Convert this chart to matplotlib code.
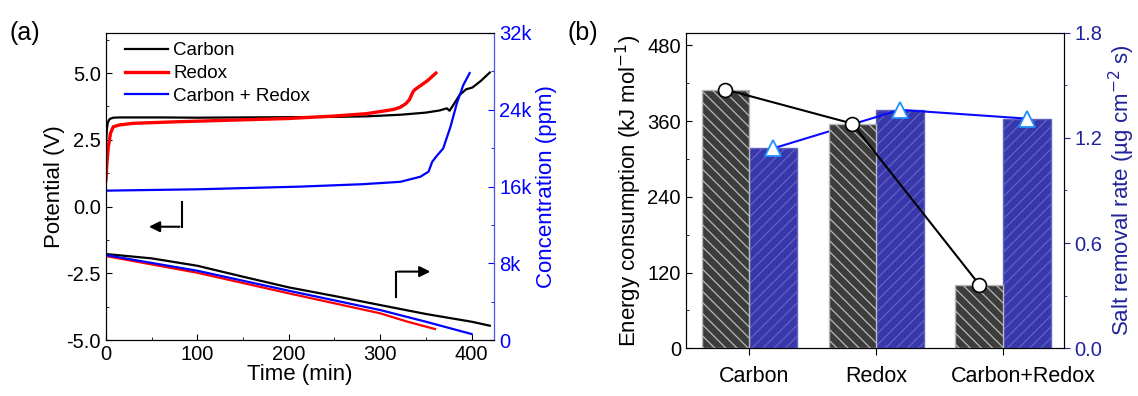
import numpy as np
import matplotlib
matplotlib.use('Agg')
import matplotlib.pyplot as plt
from matplotlib.ticker import MultipleLocator, FuncFormatter
from matplotlib.transforms import ScaledTranslation

plt.rcParams['font.family'] = ['Liberation Sans', 'DejaVu Sans']
plt.rcParams['hatch.linewidth'] = 0.9

# ---- panel (a): potential curves (left axis) ----
t_carbon_v = [0, 0.5, 1, 2, 4, 8, 15, 30, 60, 100, 150, 200, 250, 285, 322, 350, 365, 373, 376, 380, 387, 394, 401, 410, 420]
v_carbon = [2.3, 2.6, 2.9, 3.15, 3.28, 3.33, 3.34, 3.34, 3.34, 3.33, 3.34, 3.35, 3.36, 3.38, 3.44, 3.52, 3.6, 3.68, 3.59, 3.8, 4.18, 4.39, 4.46, 4.7, 5.02]

t_redox_v = [0, 1, 2.6, 5, 8, 15, 30, 80, 139, 200, 249, 285, 304, 315, 322, 328, 332, 336, 338, 345, 352, 361]
v_redox = [1.0, 1.6, 2.24, 2.75, 2.99, 3.06, 3.12, 3.18, 3.24, 3.3, 3.39, 3.48, 3.58, 3.64, 3.72, 3.85, 4.0, 4.3, 4.38, 4.55, 4.72, 5.0]

t_mix_v = [0, 100, 212, 280, 322, 344, 353, 357, 362, 369, 377, 384, 391, 398]
v_mix = [0.6, 0.65, 0.75, 0.84, 0.93, 1.12, 1.31, 1.68, 1.9, 2.18, 2.99, 3.87, 4.55, 5.0]

# ---- panel (a): concentration curves (right axis, ppm) ----
t_carbon_c = [0, 50, 100, 150, 200, 250, 300, 350, 400, 420]
c_carbon = [8980, 8530, 7760, 6620, 5510, 4610, 3670, 2740, 1935, 1520]

t_redox_c = [0, 100, 200, 300, 330, 360]
c_redox = [8770, 7030, 4890, 2810, 1935, 1175]

t_mix_c = [0, 100, 200, 300, 350, 400]
c_mix = [8870, 7240, 5160, 3150, 1935, 655]

# ---- panel (b) ----
categories = ['Carbon', 'Redox', 'Carbon+Redox']
energy = [410, 356, 101]        # kJ mol-1
removal_rate = [1.14, 1.36, 1.31]  # ug cm-2 s

TICK = 14.5
LAB = 16

fig = plt.figure(figsize=(11.38, 3.96), dpi=100)

# ================= (a) =================
ax1 = fig.add_axes([0.0931, 0.1407, 0.3413, 0.776])
ax1.plot(t_carbon_v, v_carbon, color='black', lw=1.6, label='Carbon')
ax1.plot(t_redox_v, v_redox, color='red', lw=2.4, label='Redox')
ax1.plot(t_mix_v, v_mix, color='blue', lw=1.6, label='Carbon + Redox')
ax1.set_xlim(0, 425)
ax1.set_ylim(-5, 6.5)
ax1.set_yticks([-5, -2.5, 0, 2.5, 5])
ax1.yaxis.set_minor_locator(MultipleLocator(1.25))
ax1.xaxis.set_major_locator(MultipleLocator(100))
ax1.xaxis.set_minor_locator(MultipleLocator(50))
ax1.yaxis.set_major_formatter(FuncFormatter(lambda v, p: '%.1f' % v))
ax1.tick_params(which='both', direction='in', labelsize=TICK)
ax1.tick_params(which='major', length=4)
ax1.tick_params(which='minor', length=2.5)
ax1.set_xlabel('Time (min)', fontsize=LAB, labelpad=0)
ax1.set_ylabel('Potential (V)', fontsize=LAB, labelpad=1)
ax1.legend(loc='upper left', frameon=False, fontsize=13.5, handlelength=2.3,
           handletextpad=0.28, labelspacing=0.3, borderaxespad=0, borderpad=0,
           bbox_to_anchor=(0.049, 0.97))

# arrows
ax1.plot([83, 83], [0.19, -0.75], color='black', lw=1.5)
ax1.annotate('', xy=(44, -0.75), xytext=(83.6, -0.75),
             arrowprops=dict(arrowstyle='-|>', color='black', lw=1.5, mutation_scale=16))
ax1.plot([317, 317], [-3.37, -2.43], color='black', lw=1.5)
ax1.annotate('', xy=(358, -2.43), xytext=(316.4, -2.43),
             arrowprops=dict(arrowstyle='-|>', color='black', lw=1.5, mutation_scale=16))

ax1r = ax1.twinx()
ax1r.plot(t_carbon_c, c_carbon, color='black', lw=1.6)
ax1r.plot(t_redox_c, c_redox, color='red', lw=1.6)
ax1r.plot(t_mix_c, c_mix, color='blue', lw=1.6)
ax1r.set_ylim(0, 32000)
ax1r.yaxis.set_major_locator(MultipleLocator(8000))
ax1r.yaxis.set_minor_locator(MultipleLocator(4000))
ax1r.yaxis.set_major_formatter(FuncFormatter(lambda v, p: '0' if v == 0 else '%dk' % (v / 1000)))
ax1r.tick_params(which='both', direction='in', labelsize=TICK, colors='#0000ff')
ax1r.tick_params(which='major', length=4)
ax1r.tick_params(which='minor', length=2.5)
ax1r.spines['right'].set_color('#5050ff')
ax1r.set_ylabel('Concentration (ppm)', fontsize=LAB, color='#0000ff', labelpad=3)

fig.text(0.008, 0.9, '(a)', fontsize=18)

# ================= (b) =================
ax2 = fig.add_axes([0.6026, 0.1205, 0.3323, 0.7969])
x = np.arange(1, len(categories) + 1)
w = 0.375
ax2.bar(x - w / 2, energy, width=w, color='#3c3c3c', edgecolor='#b8b8b8',
        hatch='\\\\\\', linewidth=1.0, zorder=2)
ax2.plot(x - w / 2, energy, color='black', lw=1.5, marker='o', markersize=10,
         markerfacecolor='white', markeredgecolor='black', markeredgewidth=1.2, zorder=5)
ax2.set_xlim(0.5, 3.48)
ax2.set_ylim(0, 500)
ax2.yaxis.set_major_locator(MultipleLocator(120))
ax2.yaxis.set_minor_locator(MultipleLocator(60))
ax2.set_xticks(x)
ax2.set_xticklabels(categories)
ax2.tick_params(axis='y', which='both', direction='in', labelsize=TICK)
ax2.tick_params(axis='y', which='major', length=4)
ax2.tick_params(axis='y', which='minor', length=2.5)
ax2.tick_params(axis='x', direction='out', length=5, labelsize=15.5, pad=8)
ax2.set_ylabel('Energy consumption (kJ mol$^{-1}$)', fontsize=LAB, labelpad=2)
lbls = ax2.get_xticklabels()
lbls[0].set_transform(lbls[0].get_transform() + ScaledTranslation(0.05, 0, fig.dpi_scale_trans))
lbls[2].set_transform(lbls[2].get_transform() + ScaledTranslation(0.2, 0, fig.dpi_scale_trans))

ax2r = ax2.twinx()
ax2r.bar(x + w / 2, removal_rate, width=w, color='#3838ac', edgecolor='#6262c4',
         hatch='///', linewidth=1.0, zorder=2)
ax2r.plot(x + w / 2, removal_rate, color='#0a0aff', lw=1.5, marker='^', markersize=12,
          markerfacecolor='white', markeredgecolor='#1e90ff', markeredgewidth=1.3, zorder=5)
ax2r.set_ylim(0, 1.8)
ax2r.yaxis.set_major_locator(MultipleLocator(0.6))
ax2r.yaxis.set_minor_locator(MultipleLocator(0.3))
ax2r.yaxis.set_major_formatter(FuncFormatter(lambda v, p: '%.1f' % v))
ax2r.tick_params(which='both', direction='out', labelsize=TICK, colors='#22229a')
ax2r.tick_params(which='major', length=4)
ax2r.tick_params(which='minor', length=2.5)
ax2r.spines['right'].set_color('#22229a')
ax2r.set_ylabel('Salt removal rate (µg cm$^{-2}$ s)', fontsize=LAB, color='#22229a', labelpad=3)

# keep the circles/black line above the blue bars
ax2.set_zorder(ax2r.get_zorder() + 1)
ax2.patch.set_visible(False)

fig.text(0.499, 0.9, '(b)', fontsize=18)

plt.savefig('out.png', dpi=100)
